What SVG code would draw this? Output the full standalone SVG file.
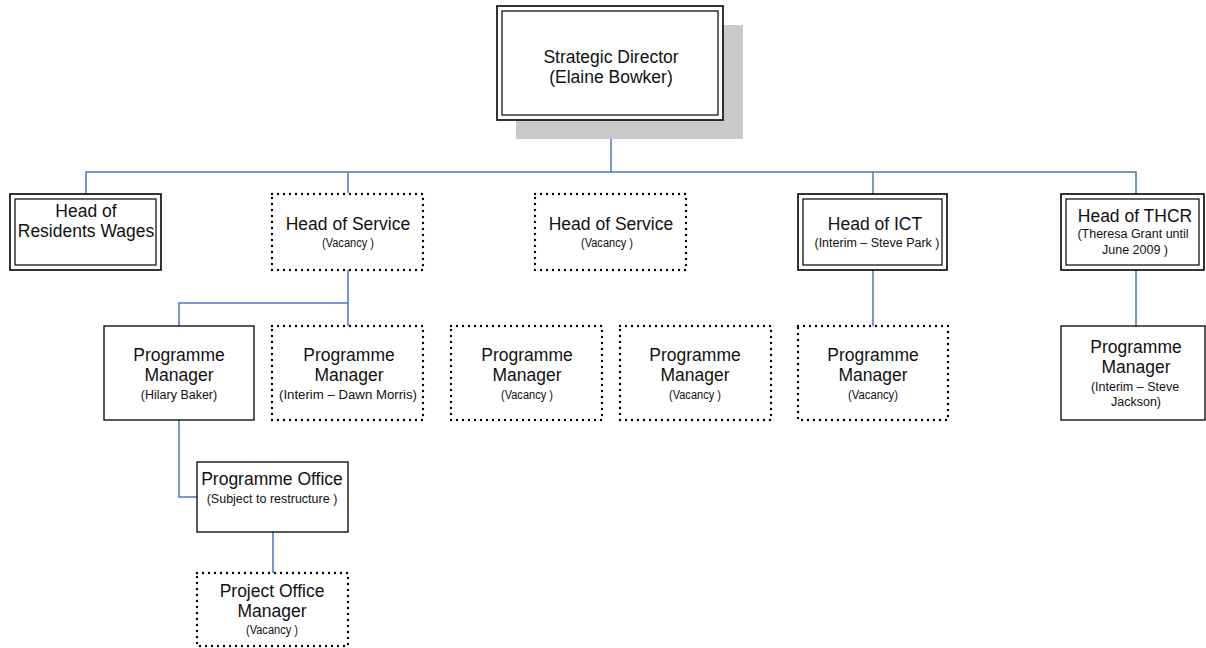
<svg xmlns="http://www.w3.org/2000/svg" width="1206" height="648" viewBox="0 0 1206 648">
  <style>
    .bg { fill: #ffffff; }
    .outer { fill: #ffffff; stroke: #000; stroke-width: 1.6; }
    .inner { fill: none; stroke: #000; stroke-width: 1.2; }
    .solid { fill: #ffffff; stroke: #000; stroke-width: 1.3; }
    .dotted { fill: #ffffff; stroke: #000; stroke-width: 2.4; stroke-dasharray: 0 6; stroke-linecap: round; }
    .shadow { fill: #c9c9c9; }
    .link { fill: none; stroke: #4a76c4; stroke-width: 1.5; }
    text { font-family: "Liberation Sans", Arial, sans-serif; fill: #111; text-anchor: middle; }
    .t { font-size: 17.5px; }
    .s { font-size: 12.5px; }
  </style>
  <rect class="bg" x="0" y="0" width="1206" height="648"/>

  <!-- reporting lines -->
  <g id="connectors">
    <path class="link" d="M611 120 V172"/>
    <path class="link" d="M86 194 V172 H1136 V194"/>
    <path class="link" d="M348 172 V193"/>
    <path class="link" d="M873 172 V194"/>
    <path class="link" d="M348 270 V326"/>
    <path class="link" d="M179 326 V303 H348"/>
    <path class="link" d="M873 270 V326"/>
    <path class="link" d="M1136 270 V326"/>
    <path class="link" d="M179 420 V497 H197"/>
    <path class="link" d="M273 532 V573"/>
  </g>

  <g id="strategic-director">
    <rect class="shadow" x="516" y="25" width="227" height="114"/>
    <rect class="outer" x="497" y="6" width="226" height="114"/>
    <rect class="inner" x="502" y="11" width="216" height="104"/>
    <text class="t" x="611" y="63">Strategic Director</text>
    <text class="t" x="611" y="83">(Elaine Bowker)</text>
  </g>

  <g id="head-residents-wages">
    <rect class="outer" x="10" y="194" width="151" height="76"/>
    <rect class="inner" x="15" y="199" width="141" height="66"/>
    <text class="t" x="86" y="217">Head of</text>
    <text class="t" x="86" y="237">Residents Wages</text>
  </g>

  <g id="head-service-1">
    <rect class="dotted" x="272" y="194" width="151" height="76"/>
    <text class="t" x="348" y="230">Head of Service</text>
    <text class="s" x="348" y="247" textLength="52" lengthAdjust="spacingAndGlyphs">(Vacancy )</text>
  </g>

  <g id="head-service-2">
    <rect class="dotted" x="535" y="194" width="151" height="76"/>
    <text class="t" x="611" y="230">Head of Service</text>
    <text class="s" x="607" y="247" textLength="52" lengthAdjust="spacingAndGlyphs">(Vacancy )</text>
  </g>

  <g id="head-ict">
    <rect class="outer" x="798" y="194" width="149" height="76"/>
    <rect class="inner" x="803" y="199" width="139" height="66"/>
    <text class="t" x="875" y="230">Head of ICT</text>
    <text class="s" x="877" y="247">(Interim – Steve Park )</text>
  </g>

  <g id="head-thcr">
    <rect class="outer" x="1061" y="194" width="143" height="76"/>
    <rect class="inner" x="1066" y="199" width="133" height="66"/>
    <text class="t" x="1135" y="222">Head of THCR</text>
    <text class="s" x="1133" y="238">(Theresa Grant until</text>
    <text class="s" x="1135" y="254">June 2009 )</text>
  </g>

  <g id="pm-hilary-baker">
    <rect class="solid" x="104" y="326" width="150" height="94"/>
    <text class="t" x="179" y="361">Programme</text>
    <text class="t" x="179" y="381">Manager</text>
    <text class="s" x="179" y="399">(Hilary Baker)</text>
  </g>

  <g id="pm-dawn-morris">
    <rect class="dotted" x="272" y="326" width="151" height="94"/>
    <text class="t" x="349" y="361">Programme</text>
    <text class="t" x="349" y="381">Manager</text>
    <text class="s" x="348" y="399" textLength="138" lengthAdjust="spacingAndGlyphs">(Interim  – Dawn Morris)</text>
  </g>

  <g id="pm-vacancy-1">
    <rect class="dotted" x="451" y="326" width="151" height="94"/>
    <text class="t" x="527" y="361">Programme</text>
    <text class="t" x="527" y="381">Manager</text>
    <text class="s" x="527" y="399" textLength="52" lengthAdjust="spacingAndGlyphs">(Vacancy )</text>
  </g>

  <g id="pm-vacancy-2">
    <rect class="dotted" x="620" y="326" width="151" height="94"/>
    <text class="t" x="695" y="361">Programme</text>
    <text class="t" x="695" y="381">Manager</text>
    <text class="s" x="695" y="399" textLength="52" lengthAdjust="spacingAndGlyphs">(Vacancy )</text>
  </g>

  <g id="pm-vacancy-3">
    <rect class="dotted" x="798" y="326" width="150" height="94"/>
    <text class="t" x="873" y="361">Programme</text>
    <text class="t" x="873" y="381">Manager</text>
    <text class="s" x="873" y="399" textLength="50" lengthAdjust="spacingAndGlyphs">(Vacancy)</text>
  </g>

  <g id="pm-steve-jackson">
    <rect class="solid" x="1061" y="326" width="144" height="94"/>
    <text class="t" x="1136" y="353">Programme</text>
    <text class="t" x="1136" y="373">Manager</text>
    <text class="s" x="1135" y="391">(Interim  – Steve</text>
    <text class="s" x="1136" y="406">Jackson)</text>
  </g>

  <g id="programme-office">
    <rect class="solid" x="197" y="462" width="151" height="70"/>
    <text class="t" x="272" y="485">Programme Office</text>
    <text class="s" x="272" y="503">(Subject to restructure  )</text>
  </g>

  <g id="project-office-manager">
    <rect class="dotted" x="197" y="573" width="151" height="73"/>
    <text class="t" x="272" y="597">Project Office</text>
    <text class="t" x="272" y="617">Manager</text>
    <text class="s" x="272" y="634" textLength="52" lengthAdjust="spacingAndGlyphs">(Vacancy )</text>
  </g>
</svg>
